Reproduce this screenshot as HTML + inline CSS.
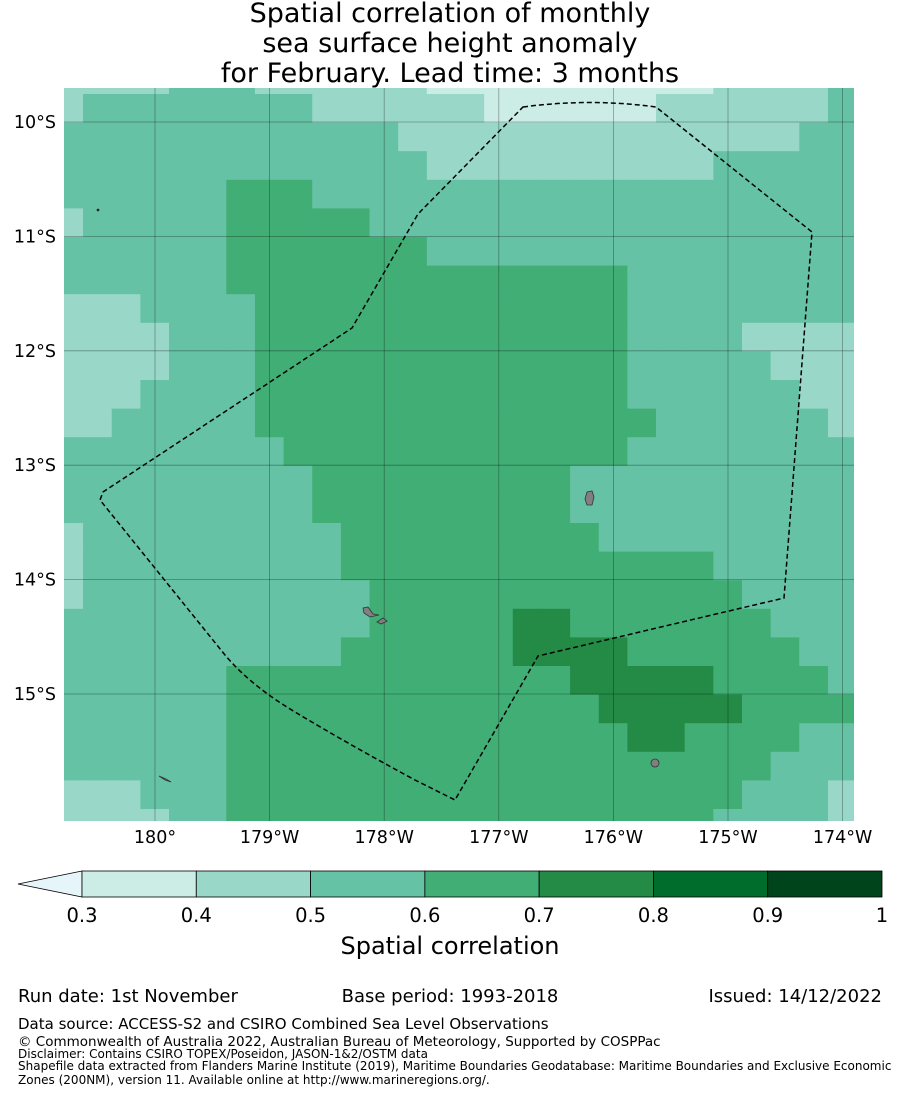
<!DOCTYPE html>
<html><head><meta charset="utf-8">
<style>
body{margin:0;background:#fff;width:900px;height:1095px;overflow:hidden;font-family:"Liberation Sans","DejaVu Sans",sans-serif;}
svg{position:absolute;left:0;top:0}
</style></head>
<body>
<svg id="chart" width="900" height="1095" font-family="DejaVu Sans, Liberation Sans, sans-serif">
<defs><clipPath id="mapclip"><rect x="64" y="88" width="790" height="733"/></clipPath></defs>
<g font-size="27" text-anchor="middle" fill="#000">
<text x="450" y="22">Spatial correlation of monthly</text>
<text x="450" y="52">sea surface height anomaly</text>
<text x="450" y="82">for February. Lead time: 3 months</text>
</g>
<g id="cells" clip-path="url(#mapclip)"></g>
<g id="grid" clip-path="url(#mapclip)"></g>
<g clip-path="url(#mapclip)" fill="#808080" stroke="#333" stroke-width="0.8">
<path d="M587,492 L592,491 L594,497 L592,505 L587,505 L585,499 Z"/>
<path d="M363,608 L368,607 L373,614 L379,615 L370,617 L364,613 Z"/>
<path d="M377,622 L383,618 L387,621 L381,624 Z"/>
<circle cx="655" cy="763" r="4"/>
<path d="M159,776 L166,779 L171,782 L165,780 Z"/>
<circle cx="98" cy="210" r="1" fill="#000"/>
</g>
<path clip-path="url(#mapclip)" fill="none" stroke="#000" stroke-width="1.5" stroke-dasharray="5,3"
d="M523,107 Q590,98 656,107 L812,232 L784,598 L538,656 L455,800 L415,780 Q350,745 295,712 Q250,685 225,655 L100,500 L103,492 L352,328 L418,214 Z"/>
<g id="xticks" font-size="17.5" text-anchor="middle"></g>
<g id="yticks" font-size="17.5" text-anchor="end"></g>
<g id="cbar"></g>
<text x="450" y="954" font-size="24" text-anchor="middle">Spatial correlation</text>
<g font-size="18">
<text x="18" y="1002">Run date: 1st November</text>
<text x="450" y="1002" text-anchor="middle">Base period: 1993-2018</text>
<text x="882" y="1002" text-anchor="end">Issued: 14/12/2022</text>
<text x="18" y="1029" font-size="15">Data source: ACCESS-S2 and CSIRO Combined Sea Level Observations</text>
<text x="18" y="1046" font-size="13.5">© Commonwealth of Australia 2022, Australian Bureau of Meteorology, Supported by COSPPac</text>
<text x="18" y="1058" font-size="12">Disclaimer: Contains CSIRO TOPEX/Poseidon, JASON-1&amp;2/OSTM data</text>
<text x="18" y="1070" font-size="12">Shapefile data extracted from Flanders Marine Institute (2019), Maritime Boundaries Geodatabase: Maritime Boundaries and Exclusive Economic</text>
<text x="18" y="1084" font-size="12">Zones (200NM), version 11. Available online at http://www.marineregions.org/.</text>
</g>
</svg>
<script>
// Grid of correlation class (1..7) per cell, row-major from north to south, 28 columns
const gridRows = [
"2222333222222111111111122223",
"2333333332222221111112222223",
"3333333333332222222222222233",
"3333333333333222222222233333",
"3333334443333333333333333333",
"2333334444433333333333333333",
"3333334444444333333333333333",
"3333334444444444444433333333",
"2223333444444444444433333333",
"2222333444444444444433332222",
"2222333444444444444433333222",
"2223333444444444444433333322",
"2233333444444444444443333332",
"3333333344444444444433333333",
"3333333334444444443333333333",
"3333333334444444443333333333",
"2333333333444444444333333333",
"2333333333444444444444433333",
"2333333333344444444444443333",
"3333333333344444554444444333",
"3333333333444444555544444433",
"3333334444444444445555544443",
"3333334444444444444555554444",
"3333334444444444444455444433",
"3333334444444444444444444333",
"2223334444444444444444443332",
"2222334444444444444444433332"
];
const classColors = ["#ccece6","#99d8c9","#66c2a4","#41ae76","#238b45","#006d2c","#00441b"];
const cbTicks = ["0.3","0.4","0.5","0.6","0.7","0.8","0.9","1"];
const lonTicks = [180,181,182,183,184,185,186];
const lonLabels = ["180°","179°W","178°W","177°W","176°W","175°W","174°W"];
const latTicks = [10,11,12,13,14,15];
const latLabels = ["10°S","11°S","12°S","13°S","14°S","15°S"];

const NS="http://www.w3.org/2000/svg";
const cellW=28.65, cellH=28.6, gx0=54.4, gy0=65.4;
const xLon = lon => 155 + (lon-180)*114.6;
const yLat = lat => 122 + (lat-10)*114.4;
const colX = c => gx0 + c*cellW;
const rowY = r => gy0 + r*cellH;

const cells=document.getElementById('cells');
gridRows.forEach((row,r)=>{
  for(let c=0;c<row.length;c++){
    const v=+row[c];
    const rect=document.createElementNS(NS,'rect');
    rect.setAttribute('x',colX(c)); rect.setAttribute('y',rowY(r));
    rect.setAttribute('width',cellW+0.6); rect.setAttribute('height',cellH+0.6);
    rect.setAttribute('fill',classColors[v-1]);
    
    
    cells.appendChild(rect);
  }
});
const grid=document.getElementById('grid');
const xt=document.getElementById('xticks');
lonTicks.forEach((lon,i)=>{
  const x=xLon(lon);
  const l=document.createElementNS(NS,'line');
  l.setAttribute('x1',x);l.setAttribute('x2',x);l.setAttribute('y1',88);l.setAttribute('y2',821);
  l.setAttribute('stroke','rgba(0,0,0,0.35)');l.setAttribute('stroke-width','0.8');
  
  
  grid.appendChild(l);
  const t=document.createElementNS(NS,'text');
  t.setAttribute('x',x);t.setAttribute('y',843);t.textContent=lonLabels[i];
  
  
  xt.appendChild(t);
});
const yt=document.getElementById('yticks');
latTicks.forEach((lat,i)=>{
  const y=yLat(lat);
  const l=document.createElementNS(NS,'line');
  l.setAttribute('x1',64);l.setAttribute('x2',854);l.setAttribute('y1',y);l.setAttribute('y2',y);
  l.setAttribute('stroke','rgba(0,0,0,0.35)');l.setAttribute('stroke-width','0.8');
  
  
  grid.appendChild(l);
  const t=document.createElementNS(NS,'text');
  t.setAttribute('x',56);t.setAttribute('y',y+6);t.textContent=latLabels[i];
  
  
  yt.appendChild(t);
});
// colorbar
const cb=document.getElementById('cbar');
const cbx0=82, cbx1=882, cby=871, cbh=26;
const segW=(cbx1-cbx0)/classColors.length;
const tri=document.createElementNS(NS,'polygon');
tri.setAttribute('points',`${cbx0},${cby} 18,${cby+cbh/2} ${cbx0},${cby+cbh}`);
tri.setAttribute('fill','#e5f5f9');tri.setAttribute('stroke','#000');tri.setAttribute('stroke-width','0.8');


cb.appendChild(tri);
classColors.forEach((col,i)=>{
  const r=document.createElementNS(NS,'rect');
  r.setAttribute('x',cbx0+i*segW);r.setAttribute('y',cby);r.setAttribute('width',segW);r.setAttribute('height',cbh);
  r.setAttribute('fill',col);r.setAttribute('stroke','#000');r.setAttribute('stroke-width','0.8');
  
  
  cb.appendChild(r);
});
cbTicks.forEach((lab,i)=>{
  const t=document.createElementNS(NS,'text');
  t.setAttribute('x',cbx0+i*segW);t.setAttribute('y',922);t.setAttribute('font-size','19.5');
  t.setAttribute('text-anchor','middle');t.textContent=lab;
  
  
  cb.appendChild(t);
});
</script>
</body></html>
